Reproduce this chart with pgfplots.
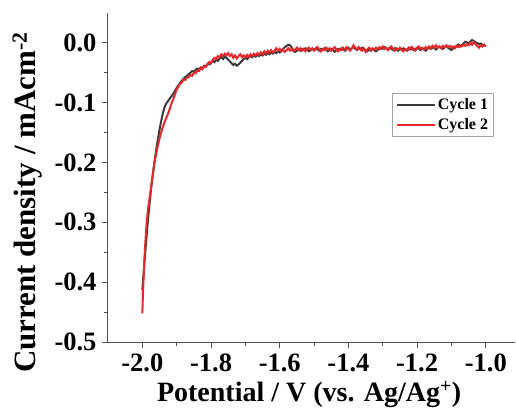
\documentclass[border=0pt]{standalone}
\usepackage{pgfplots}
\pgfplotsset{compat=1.18}
\usepackage{fontspec}
\setmainfont{Liberation Serif}
\definecolor{cOne}{HTML}{3A3A3A}
\definecolor{cTwo}{HTML}{E5282C}
\definecolor{axgray}{HTML}{505050}
\begin{document}
\begin{tikzpicture}
\begin{axis}[
  name=ax,
  scale only axis,
  width=407pt, height=329pt,
  xmin=-2.1, xmax=-0.915,
  ymin=-0.5, ymax=0.05,
  axis lines=left,
  axis line style={-, axgray, line width=1pt},
  every tick/.style={axgray, line width=0.9pt},
  tick align=outside,
  major tick length=6pt,
  minor tick length=3.5pt,
  xtick={-2.0,-1.8,-1.6,-1.4,-1.2,-1.0},
  ytick={-0.5,-0.4,-0.3,-0.2,-0.1,0.0},
  minor x tick num=1,
  minor y tick num=1,
  /pgf/number format/assume math mode=true,
  /pgf/number format/.cd, fixed, fixed zerofill, precision=1, /pgfplots/.cd,
  ticklabel style={font=\bfseries\fontsize{26.5}{26.5}\selectfont},
  xticklabel style={yshift=-2pt},
  yticklabel style={xshift=-2pt},
  xlabel={Potential / V (vs. Ag/Ag\textsuperscript{+})},
  ylabel={Current density / mAcm\textsuperscript{-2}},
  xlabel style={font=\bfseries\fontsize{28}{28}\selectfont, at={(axis description cs:0.494,-0.182)}, anchor=base},
  ylabel style={font=\bfseries\fontsize{31}{31}\selectfont, at={(axis description cs:-0.177,0.424)}, anchor=base},
  legend style={at={(0.698,0.757)}, anchor=north west, draw=gray!70, line width=0.6pt,
    font=\bfseries\fontsize{16}{17}\selectfont, inner sep=3.5pt, row sep=3pt},
  legend cell align=left,
  legend image code/.code={\draw[#1, line width=2pt] (0pt,0pt) -- (38pt,0pt);},
]
\addplot[cOne, line width=2pt] coordinates {
(-2.000,-0.413) (-1.995,-0.375) (-1.990,-0.340) (-1.985,-0.305) (-1.980,-0.275)
(-1.975,-0.246) (-1.970,-0.222) (-1.965,-0.200) (-1.960,-0.180) (-1.955,-0.162)
(-1.950,-0.145) (-1.945,-0.130) (-1.940,-0.117) (-1.935,-0.107) (-1.930,-0.101)
(-1.925,-0.097) (-1.920,-0.093) (-1.915,-0.089) (-1.910,-0.085) (-1.905,-0.080)
(-1.900,-0.075) (-1.895,-0.071) (-1.890,-0.067) (-1.885,-0.063) (-1.880,-0.060)
(-1.875,-0.057) (-1.870,-0.055) (-1.865,-0.052) (-1.860,-0.050) (-1.855,-0.047)
(-1.850,-0.048) (-1.845,-0.045) (-1.840,-0.043) (-1.835,-0.044) (-1.830,-0.041)
(-1.825,-0.042) (-1.820,-0.038) (-1.815,-0.039) (-1.810,-0.035) (-1.805,-0.036)
(-1.800,-0.033) (-1.795,-0.030) (-1.790,-0.032) (-1.785,-0.028) (-1.780,-0.030)
(-1.775,-0.026) (-1.770,-0.024) (-1.765,-0.027) (-1.760,-0.023) (-1.755,-0.025)
(-1.750,-0.028) (-1.745,-0.031) (-1.740,-0.034) (-1.735,-0.037) (-1.730,-0.035)
(-1.725,-0.038) (-1.720,-0.036) (-1.715,-0.033) (-1.710,-0.030) (-1.705,-0.027)
(-1.700,-0.025) (-1.695,-0.027) (-1.690,-0.024) (-1.685,-0.022) (-1.680,-0.024)
(-1.675,-0.021) (-1.670,-0.023) (-1.665,-0.020) (-1.660,-0.022) (-1.655,-0.019)
(-1.650,-0.021) (-1.645,-0.018) (-1.640,-0.020) (-1.635,-0.017) (-1.630,-0.019)
(-1.625,-0.016) (-1.620,-0.018) (-1.615,-0.015) (-1.610,-0.017) (-1.605,-0.014)
(-1.600,-0.016) (-1.595,-0.013) (-1.590,-0.010) (-1.585,-0.007) (-1.580,-0.005)
(-1.575,-0.003) (-1.570,-0.004) (-1.565,-0.008) (-1.560,-0.012) (-1.555,-0.015)
(-1.550,-0.013) (-1.545,-0.011) (-1.540,-0.013) (-1.535,-0.010) (-1.530,-0.012)
(-1.525,-0.009) (-1.520,-0.011) (-1.515,-0.014) (-1.510,-0.012) (-1.505,-0.010)
(-1.500,-0.012) (-1.495,-0.009) (-1.490,-0.011) (-1.485,-0.013) (-1.480,-0.010)
(-1.475,-0.012) (-1.470,-0.009) (-1.465,-0.011) (-1.460,-0.014) (-1.455,-0.012)
(-1.450,-0.010) (-1.445,-0.012) (-1.440,-0.015) (-1.435,-0.012) (-1.430,-0.010)
(-1.425,-0.012) (-1.420,-0.009) (-1.415,-0.011) (-1.410,-0.013) (-1.405,-0.010)
(-1.400,-0.008) (-1.395,-0.011) (-1.390,-0.009) (-1.385,-0.007) (-1.380,-0.010)
(-1.375,-0.012) (-1.370,-0.009) (-1.365,-0.011) (-1.360,-0.008) (-1.355,-0.010)
(-1.350,-0.012) (-1.345,-0.014) (-1.340,-0.011) (-1.335,-0.013) (-1.330,-0.010)
(-1.325,-0.012) (-1.320,-0.014) (-1.315,-0.012) (-1.310,-0.010) (-1.305,-0.008)
(-1.300,-0.010) (-1.295,-0.007) (-1.290,-0.009) (-1.285,-0.011) (-1.280,-0.008)
(-1.275,-0.010) (-1.270,-0.012) (-1.265,-0.009) (-1.260,-0.011) (-1.255,-0.013)
(-1.250,-0.010) (-1.245,-0.012) (-1.240,-0.009) (-1.235,-0.011) (-1.230,-0.013)
(-1.225,-0.011) (-1.220,-0.008) (-1.215,-0.010) (-1.210,-0.012) (-1.205,-0.010)
(-1.200,-0.008) (-1.195,-0.010) (-1.190,-0.012) (-1.185,-0.009) (-1.180,-0.011)
(-1.175,-0.013) (-1.170,-0.010) (-1.165,-0.008) (-1.160,-0.010) (-1.155,-0.007)
(-1.150,-0.009) (-1.145,-0.011) (-1.140,-0.008) (-1.135,-0.006) (-1.130,-0.008)
(-1.125,-0.010) (-1.120,-0.007) (-1.115,-0.005) (-1.110,-0.008) (-1.105,-0.010)
(-1.100,-0.012) (-1.095,-0.009) (-1.090,-0.007) (-1.085,-0.005) (-1.080,-0.003)
(-1.075,-0.006) (-1.070,-0.004) (-1.065,-0.001) (-1.060,0.002) (-1.055,0.001)
(-1.050,-0.001) (-1.045,0.002) (-1.040,0.005) (-1.035,0.003) (-1.030,0.001)
(-1.025,0.000) (-1.020,-0.002) (-1.015,-0.001) (-1.010,-0.003) (-1.005,-0.004)
(-1.000,-0.005)
};
\addlegendentry{Cycle 1}
\addplot[cTwo, line width=2pt] coordinates {
(-2.000,-0.452) (-1.998,-0.415) (-1.995,-0.375) (-1.992,-0.340) (-1.988,-0.305)
(-1.984,-0.280) (-1.980,-0.264) (-1.975,-0.243) (-1.970,-0.222) (-1.965,-0.202)
(-1.960,-0.186) (-1.955,-0.172) (-1.950,-0.160) (-1.945,-0.149) (-1.940,-0.140)
(-1.935,-0.132) (-1.930,-0.125) (-1.925,-0.118) (-1.920,-0.110) (-1.915,-0.101)
(-1.910,-0.094) (-1.905,-0.086) (-1.900,-0.078) (-1.895,-0.073) (-1.890,-0.068)
(-1.885,-0.066) (-1.880,-0.061) (-1.875,-0.062) (-1.870,-0.058) (-1.865,-0.057)
(-1.860,-0.054) (-1.855,-0.055) (-1.850,-0.050) (-1.845,-0.051) (-1.840,-0.046)
(-1.835,-0.047) (-1.830,-0.042) (-1.825,-0.044) (-1.820,-0.039) (-1.815,-0.040)
(-1.810,-0.035) (-1.805,-0.032) (-1.800,-0.034) (-1.795,-0.028) (-1.790,-0.025)
(-1.785,-0.027) (-1.780,-0.022) (-1.775,-0.024) (-1.770,-0.019) (-1.765,-0.022)
(-1.760,-0.018) (-1.755,-0.021) (-1.750,-0.017) (-1.745,-0.022) (-1.740,-0.019)
(-1.735,-0.025) (-1.730,-0.021) (-1.725,-0.026) (-1.720,-0.022) (-1.715,-0.019)
(-1.710,-0.024) (-1.705,-0.021) (-1.700,-0.024) (-1.695,-0.020) (-1.690,-0.023)
(-1.685,-0.019) (-1.680,-0.022) (-1.675,-0.018) (-1.670,-0.021) (-1.665,-0.017)
(-1.660,-0.020) (-1.655,-0.016) (-1.650,-0.019) (-1.645,-0.014) (-1.640,-0.018)
(-1.635,-0.013) (-1.630,-0.016) (-1.625,-0.012) (-1.620,-0.016) (-1.615,-0.013)
(-1.610,-0.009) (-1.605,-0.013) (-1.600,-0.010) (-1.595,-0.014) (-1.590,-0.011)
(-1.585,-0.015) (-1.580,-0.012) (-1.575,-0.009) (-1.570,-0.013) (-1.565,-0.010)
(-1.560,-0.014) (-1.555,-0.011) (-1.550,-0.008) (-1.545,-0.012) (-1.540,-0.009)
(-1.535,-0.013) (-1.530,-0.010) (-1.525,-0.014) (-1.520,-0.010) (-1.515,-0.008)
(-1.510,-0.012) (-1.505,-0.009) (-1.500,-0.013) (-1.495,-0.010) (-1.490,-0.007)
(-1.485,-0.011) (-1.480,-0.014) (-1.475,-0.010) (-1.470,-0.012) (-1.465,-0.008)
(-1.460,-0.011) (-1.455,-0.009) (-1.450,-0.013) (-1.445,-0.010) (-1.440,-0.007)
(-1.435,-0.011) (-1.430,-0.014) (-1.425,-0.010) (-1.420,-0.012) (-1.415,-0.008)
(-1.410,-0.011) (-1.405,-0.007) (-1.400,-0.010) (-1.395,-0.013) (-1.390,-0.009)
(-1.385,-0.004) (-1.380,-0.008) (-1.375,-0.011) (-1.370,-0.007) (-1.365,-0.010)
(-1.360,-0.013) (-1.355,-0.009) (-1.350,-0.015) (-1.345,-0.011) (-1.340,-0.008)
(-1.335,-0.012) (-1.330,-0.009) (-1.325,-0.012) (-1.320,-0.008) (-1.315,-0.011)
(-1.310,-0.007) (-1.305,-0.010) (-1.300,-0.006) (-1.295,-0.010) (-1.290,-0.008)
(-1.285,-0.012) (-1.280,-0.009) (-1.275,-0.006) (-1.270,-0.010) (-1.265,-0.013)
(-1.260,-0.009) (-1.255,-0.011) (-1.250,-0.008) (-1.245,-0.011) (-1.240,-0.014)
(-1.235,-0.010) (-1.230,-0.012) (-1.225,-0.008) (-1.220,-0.011) (-1.215,-0.007)
(-1.210,-0.010) (-1.205,-0.013) (-1.200,-0.009) (-1.195,-0.006) (-1.190,-0.010)
(-1.185,-0.008) (-1.180,-0.011) (-1.175,-0.007) (-1.170,-0.010) (-1.165,-0.006)
(-1.160,-0.009) (-1.155,-0.005) (-1.150,-0.008) (-1.145,-0.004) (-1.140,-0.008)
(-1.135,-0.006) (-1.130,-0.009) (-1.125,-0.005) (-1.120,-0.008) (-1.115,-0.004)
(-1.110,-0.007) (-1.105,-0.005) (-1.100,-0.008) (-1.095,-0.006) (-1.090,-0.009)
(-1.085,-0.005) (-1.080,-0.007) (-1.075,-0.004) (-1.070,-0.006) (-1.065,-0.003)
(-1.060,-0.005) (-1.055,-0.002) (-1.050,-0.004) (-1.045,0.000) (-1.040,-0.003)
(-1.035,0.001) (-1.030,-0.002) (-1.025,-0.005) (-1.020,-0.008) (-1.015,-0.004)
(-1.010,-0.006) (-1.005,-0.003) (-1.000,-0.006)
};
\addlegendentry{Cycle 2}
\end{axis}
\pgfresetboundingbox
\path ([xshift=-108pt,yshift=-73pt]ax.south west) rectangle ([xshift=1pt,yshift=13pt]ax.north east);
\end{tikzpicture}
\end{document}
